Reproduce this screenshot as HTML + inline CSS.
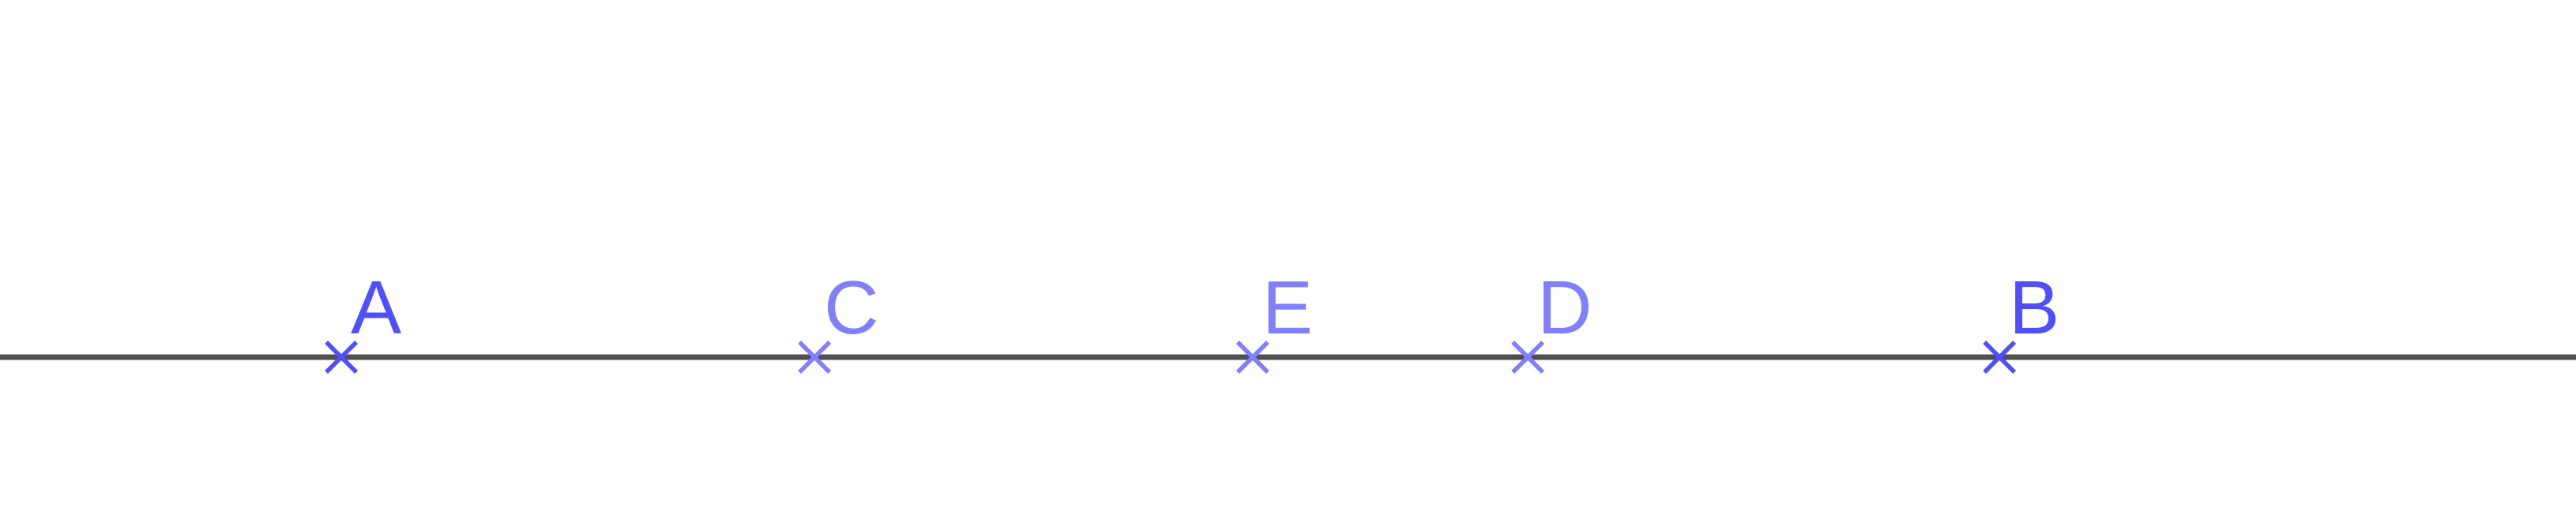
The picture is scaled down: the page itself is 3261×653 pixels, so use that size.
<!DOCTYPE html>
<html>
<head>
<meta charset="utf-8">
<style>
  html,body{margin:0;padding:0;background:#fff;}
  svg{display:block;}
  text{font-family:"Liberation Sans",sans-serif;}
</style>
</head>
<body>
<svg id="chart" width="3261" height="653" viewBox="0 0 3261 653" xmlns="http://www.w3.org/2000/svg">
  <line x1="0" y1="452" x2="3261" y2="452" stroke="#505050" stroke-width="7"/>
  <g id="points"></g>
</svg>
<script>
const labels = ["A", "C", "E", "D", "B"];
const values = [13.25, 31.62, 48.63, 59.31, 77.62];
const colors = ["#4f4fff", "#7f7fff", "#7f7fff", "#7f7fff", "#4f4fff"];
const domainMax = 100;

const W = 3261, lineY = 452;
function xScale(v){ return v / domainMax * W; }

const ns = "http://www.w3.org/2000/svg";
const g = document.getElementById("points");
labels.forEach((lab, i) => {
  const x = xScale(values[i]);
  const c = colors[i];
  const grp = document.createElementNS(ns, "g");
  
  
  const s = 19;
  [[-s,-s,s,s],[-s,s,s,-s]].forEach(d => {
    const l = document.createElementNS(ns, "line");
    
    
    l.setAttribute("x1", x + d[0]); l.setAttribute("y1", lineY + d[1]);
    l.setAttribute("x2", x + d[2]); l.setAttribute("y2", lineY + d[3]);
    l.setAttribute("stroke", c); l.setAttribute("stroke-width", "5.5");
    grp.appendChild(l);
  });
  const t = document.createElementNS(ns, "text");
  
  
  t.setAttribute("x", x + 12);
  t.setAttribute("y", 422);
  t.setAttribute("font-size", "96");
  t.setAttribute("fill", c);
  t.textContent = lab;
  grp.appendChild(t);
  g.appendChild(grp);
});
</script>
</body>
</html>
